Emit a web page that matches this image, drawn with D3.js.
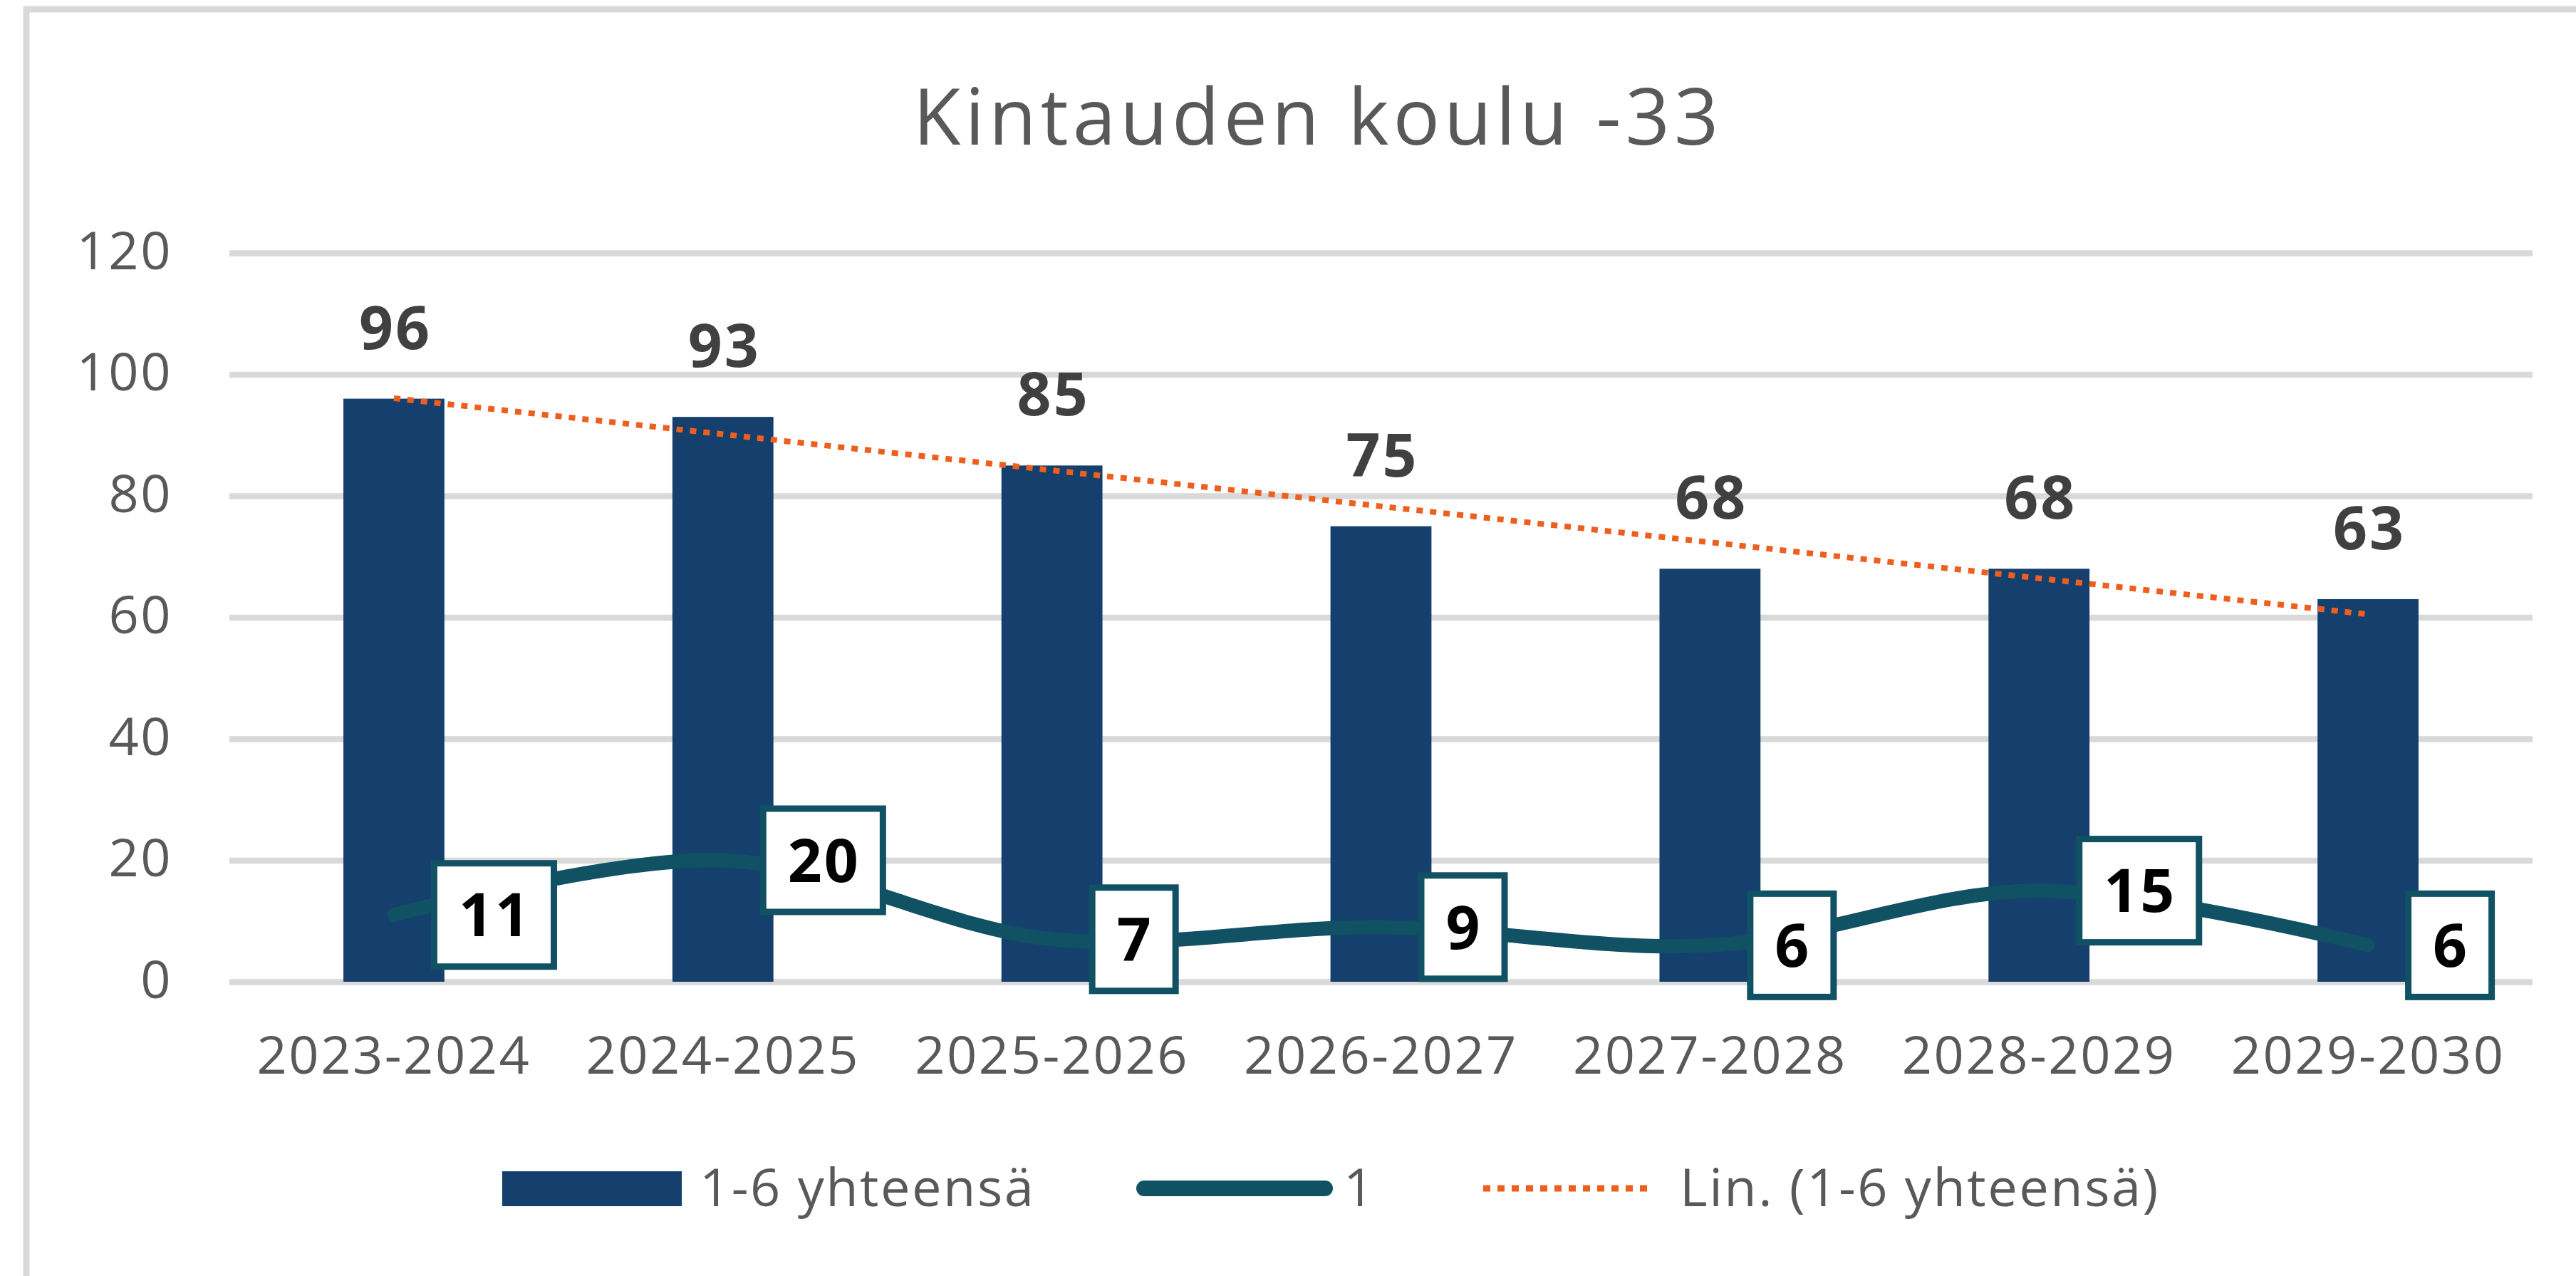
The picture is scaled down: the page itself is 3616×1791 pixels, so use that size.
<!DOCTYPE html>
<html>
<head>
<meta charset="utf-8">
<script src="https://cdn.jsdelivr.net/npm/d3@7"></script>
<style>
    body { margin: 0; background: #fff; }
    svg { display: block; }
</style>
</head>
<body>
<div id="chart"></div>
<script>
// chart data
const title = 'Kintauden koulu -33';
const years = ['2023-2024', '2024-2025', '2025-2026', '2026-2027', '2027-2028', '2028-2029', '2029-2030'];
const totals = [96, 93, 85, 75, 68, 68, 63];      // 1-6 yhteensä (bars)
const firstGrade = [11, 20, 7, 9, 6, 15, 6];      // 1 (line)
const yTicks = [0, 20, 40, 60, 80, 100, 120];
const legendLabels = ['1-6 yhteensä', '1', 'Lin. (1-6 yhteensä)'];

const FONT = '"Open Sans", "Noto Sans", sans-serif';
const GREY = '#595959';
const GRID = '#D9D9D9';
const BAR = '#153F6D';
const LINE = '#105163';
const TREND = '#EE5F1F';

/*
  margin: [top, bottom, left, right]
*/
class ComboChart {
    #x;
    #y;

    constructor(container, width, height, margin) {
        this.width = width;
        this.height = height;
        this.margin = margin;
        this.chartWidth = width - margin[2] - margin[3];
        this.chartHeight = height - margin[0] - margin[1];

        this.svg = d3.select(container)
            .append('svg')
            .attr('width', width)
            .attr('height', height)
            .style('font-family', FONT);

        this.svg.append('rect')
            .attr('width', width)
            .attr('height', height)
            .attr('fill', '#fff');

        // chart area border (runs off the right/bottom edge like the original)
        this.svg.append('rect')
            .attr('x', 37)
            .attr('y', 13)
            .attr('width', width + 200)
            .attr('height', height + 200)
            .attr('fill', 'none')
            .attr('stroke', GRID)
            .attr('stroke-width', 9);

        this.chart = this.svg.append('g')
            .attr('transform', `translate(${margin[2]}, ${margin[0]})`);
    }

    render() {
        this.#updateScales();
        const x = this.#x, y = this.#y;
        const bw = x.bandwidth();
        const cx = d => x(d) + bw / 2;

        // gridlines
        const grid = this.chart.append('g')
            .call(d3.axisLeft(y).tickValues(yTicks).tickSize(-this.chartWidth).tickFormat(''));
        grid.select('.domain').remove();
        grid.selectAll('line').attr('stroke', GRID).attr('stroke-width', 8.5);

        // axes
        const yAxis = this.chart.append('g')
            .call(d3.axisLeft(y).tickValues(yTicks).tickSize(0).tickPadding(80));
        yAxis.select('.domain').remove();
        this.#styleAxisText(yAxis).attr('y', 22).attr('dy', 0);

        const xAxis = this.chart.append('g')
            .attr('transform', `translate(0, ${this.chartHeight})`)
            .call(d3.axisBottom(x).tickSize(0).tickPadding(0));
        xAxis.select('.domain').remove();
        this.#styleAxisText(xAxis).attr('y', 129).attr('dy', 0);

        // bars
        this.chart.selectAll('rect.bar')
            .data(totals)
            .join('rect')
            .attr('class', 'bar')
            .attr('x', (d, i) => x(years[i]))
            .attr('y', d => y(d))
            .attr('width', bw)
            .attr('height', d => this.chartHeight - y(d))
            .attr('fill', BAR);

        // linear trend of the bars
        const trend = this.#linearTrend(totals);
        this.chart.append('path')
            .datum(trend)
            .attr('fill', 'none')
            .attr('stroke', TREND)
            .attr('stroke-width', 8)
            .attr('stroke-dasharray', '9 10')
            .attr('d', d3.line().x((d, i) => cx(years[i])).y(d => y(d)));

        // smoothed line
        this.chart.append('path')
            .datum(firstGrade)
            .attr('fill', 'none')
            .attr('stroke', LINE)
            .attr('stroke-width', 20)
            .attr('stroke-linecap', 'round')
            .attr('d', d3.line()
                .x((d, i) => cx(years[i]))
                .y(d => y(d))
                .curve(d3.curveCatmullRom.alpha(0.5)));

        // bar value labels
        this.chart.selectAll('text.bar-label')
            .data(totals)
            .join('text')
            .attr('class', 'bar-label')
            .attr('x', (d, i) => cx(years[i]) + 2)
            .attr('y', d => y(d) - 70)
            .attr('text-anchor', 'middle')
            .attr('font-size', 84)
            .attr('font-weight', 700)
            .attr('letter-spacing', 3)
            .attr('fill', '#404040')
            .text(d => d);

        // boxed labels for the line, placed right of each point
        const boxes = this.chart.selectAll('g.box')
            .data(firstGrade)
            .join('g')
            .attr('class', 'box')
            .attr('transform', (d, i) => `translate(${cx(years[i]) + 56.5}, ${y(d)})`);

        boxes.each(function (d) {
            const g = d3.select(this);
            const t = g.append('text')
                .attr('font-size', 84)
                .attr('font-weight', 700)
                .attr('letter-spacing', 3)
                .attr('fill', '#000')
                .attr('text-anchor', 'middle')
                .attr('dy', '0.36em')
                .text(d);
            const w = t.node().getComputedTextLength() + 66;
            t.attr('x', w / 2 + 1.5);
            g.insert('rect', 'text')
                .attr('x', 0)
                .attr('y', -72.5)
                .attr('width', w)
                .attr('height', 145)
                .attr('fill', '#fff')
                .attr('stroke', LINE)
                .attr('stroke-width', 9);
        });

        this.#drawTitle();
        this.#drawLegend();
    }

    #updateScales() {
        this.#x = d3.scaleBand()
            .domain(years)
            .range([0, this.chartWidth])
            .paddingInner(0.693)
            .paddingOuter(0.3465);

        this.#y = d3.scaleLinear()
            .domain([0, 120])
            .range([this.chartHeight, 0]);
    }

    #styleAxisText(axis) {
        axis.attr('font-family', null).attr('font-size', null);
        return axis.selectAll('text')
            .attr('fill', GREY)
            .style('font-family', FONT)
            .style('font-size', '74px')
            .attr('letter-spacing', 2.5);
    }

    // least squares fit, like Excel's "Lin." trendline
    #linearTrend(values) {
        const xs = d3.range(1, values.length + 1);
        const mx = d3.mean(xs), my = d3.mean(values);
        const slope = d3.sum(xs, (v, i) => (v - mx) * (values[i] - my))
            / d3.sum(xs, v => (v - mx) ** 2);
        return xs.map(v => my + slope * (v - mx));
    }

    #drawTitle() {
        this.svg.append('text')
            .attr('x', 1850)
            .attr('y', 203)
            .attr('text-anchor', 'middle')
            .attr('font-size', 109)
            .attr('letter-spacing', 6)
            .attr('fill', GREY)
            .text(title);
    }

    #drawLegend() {
        const legend = this.svg.append('g');
        const baseline = 1693, mid = 1668;

        legend.append('rect')
            .attr('x', 705).attr('y', 1644)
            .attr('width', 252).attr('height', 49)
            .attr('fill', BAR);

        legend.append('line')
            .attr('x1', 1606).attr('x2', 1860)
            .attr('y1', mid).attr('y2', mid)
            .attr('stroke', LINE)
            .attr('stroke-width', 22)
            .attr('stroke-linecap', 'round');

        legend.append('line')
            .attr('x1', 2082).attr('x2', 2322)
            .attr('y1', mid).attr('y2', mid)
            .attr('stroke', TREND)
            .attr('stroke-width', 9)
            .attr('stroke-dasharray', '10 10');

        legend.selectAll('text')
            .data(legendLabels)
            .join('text')
            .attr('x', (d, i) => [982, 1886, 2358][i])
            .attr('y', baseline)
            .attr('font-size', 74)
            .attr('letter-spacing', 2.5)
            .attr('fill', GREY)
            .text(d => d);
    }
}

document.fonts.ready.then(() => {
    const chart = new ComboChart('#chart', 3616, 1791, [355, 413, 322, 61]);
    chart.render();
});
</script>
</body>
</html>
